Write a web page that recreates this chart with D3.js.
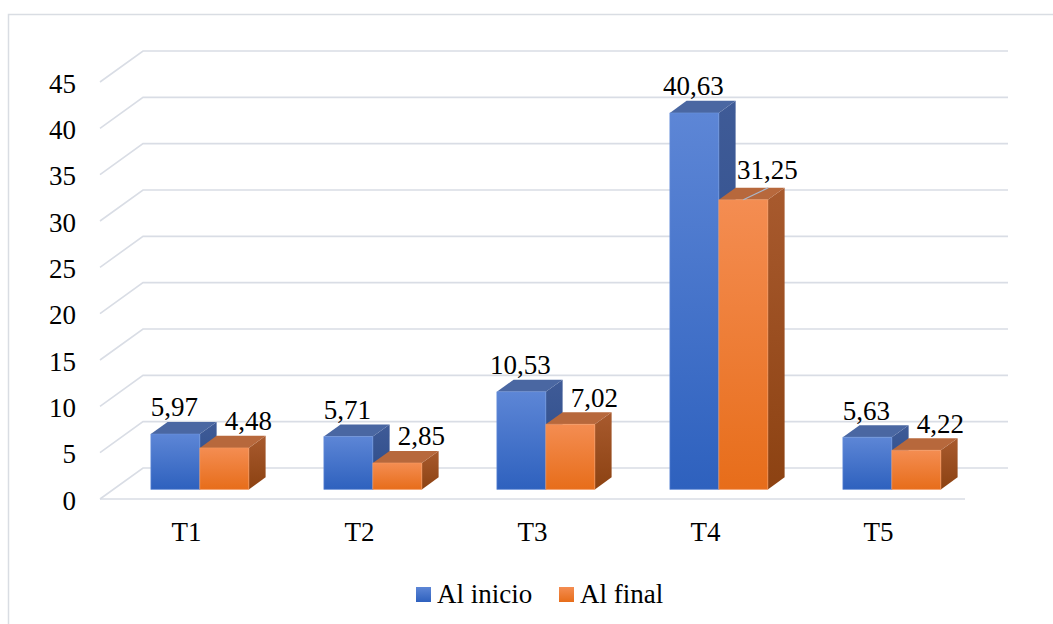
<!DOCTYPE html>
<html>
<head>
<meta charset="utf-8">
<script src="https://cdn.jsdelivr.net/npm/d3@7"></script>
<style>
  html, body { margin: 0; padding: 0; background: #fff; }
  svg { display: block; }
  svg text { font-family: 'Liberation Serif', 'Times New Roman', Tinos, serif; fill: #000; }
</style>
</head>
<body>
<svg id="chart" width="1053" height="624"></svg>
<script>
// Categories, series and values
const categories = ["T1", "T2", "T3", "T4", "T5"];
const seriesNames = ["Al inicio", "Al final"];
const alInicio = [5.97, 5.71, 10.53, 40.63, 5.63];
const alFinal  = [4.48, 2.85, 7.02, 31.25, 4.22];
const yTicks = [0, 5, 10, 15, 20, 25, 30, 35, 40, 45];

const fmt = v => d3.format(".2f")(v).replace(".", ",");

const svg = d3.select("#chart");

// Oblique 3D geometry: floor front edge, wall depth offset
const floorLeft = 100, floorRight = 965, floorFrontY = 499;
const depthDX = 43, depthDY = -31;
const barD0 = 0.31, barD1 = 0.70;   // bar depth span as fraction of floor depth

const x = d3.scaleBand().domain(categories).range([floorLeft, floorRight]).paddingInner(0).paddingOuter(0);
const xs = d3.scaleBand().domain(seriesNames).range([0, x.bandwidth()]).paddingInner(0).paddingOuter(0.765);
const h = d3.scaleLinear().domain([0, 45]).range([0, 417]);

// project (front x, value, depth fraction) -> screen
const P = (fx, v, d) => [fx + d * depthDX, floorFrontY - h(v) + d * depthDY];

// outer frame
svg.append("rect").attr("x", 8.5).attr("y", 14.5).attr("width", 1200).attr("height", 800)
  .attr("fill", "none").attr("stroke", "#d9dde3").attr("stroke-width", 1.5);

// gradients
const defs = svg.append("defs");
function grad(id, c0, c1) {
  const g = defs.append("linearGradient").attr("id", id).attr("x1", 0).attr("y1", 0).attr("x2", 0).attr("y2", 1);
  g.append("stop").attr("offset", "0%").attr("stop-color", c0);
  g.append("stop").attr("offset", "100%").attr("stop-color", c1);
}
grad("blueFront", "#5d86d6", "#2e61be");
grad("blueSide", "#3f5b97", "#2a4a88");
grad("orangeFront", "#f48d52", "#e76d1a");
grad("orangeSide", "#a85a2e", "#8c4212");

const styles = {
  "Al inicio": { front: "url(#blueFront)", side: "url(#blueSide)", top: "#4a67a2", edge: "#6d93db" },
  "Al final":  { front: "url(#orangeFront)", side: "url(#orangeSide)", top: "#b7683c", edge: "#f59a63" }
};

// gridlines: left slanted wall edge + back wall line
const grid = svg.append("g").attr("stroke", "#d9dde5").attr("stroke-width", 1.6).attr("fill", "none");
yTicks.forEach(t => {
  const a = P(floorLeft, t, 0), b = P(floorLeft, t, 1), c = P(floorRight, t, 1);
  grid.append("polyline").attr("points", [a, b, c].map(p => p.join(",")).join(" "));
});
// floor front edge
grid.append("line")
  .attr("x1", floorLeft).attr("y1", floorFrontY).attr("x2", floorRight).attr("y2", floorFrontY);

// y axis labels
svg.append("g").selectAll("text").data(yTicks).join("text")
  .attr("x", 76).attr("y", d => floorFrontY - h(d) + 10.5)
  .attr("text-anchor", "end").attr("font-size", 27)
  .text(d => d);

// category labels
svg.append("g").selectAll("text").data(categories).join("text")
  .attr("x", d => x(d) + x.bandwidth() / 2).attr("y", 541)
  .attr("text-anchor", "middle").attr("font-size", 27)
  .text(d => d);

// bars
const seriesValues = { "Al inicio": alInicio, "Al final": alFinal };
const bars = svg.append("g");
const poly = (pts, fill) => bars.append("polygon").attr("points", pts.map(p => p.join(",")).join(" ")).attr("fill", fill);

categories.forEach((cat, i) => {
  seriesNames.forEach(s => {
    const v = seriesValues[s][i];
    const st = styles[s];
    const x0 = x(cat) + xs(s), x1 = x0 + xs.bandwidth();
    const fbl = P(x0, 0, barD0), fbr = P(x1, 0, barD0), ftl = P(x0, v, barD0), ftr = P(x1, v, barD0);
    const bbr = P(x1, 0, barD1), btl = P(x0, v, barD1), btr = P(x1, v, barD1);
    poly([fbr, bbr, btr, ftr], st.side);
    poly([ftl, ftr, btr, btl], st.top);
    poly([fbl, fbr, ftr, ftl], st.front)
      .attr("stroke", st.edge).attr("stroke-width", 0.6);
  });
});

// data labels
const labels = svg.append("g");
categories.forEach((cat, i) => {
  seriesNames.forEach(s => {
    const v = seriesValues[s][i];
    const x0 = x(cat) + xs(s), x1 = x0 + xs.bandwidth();
    const frontCx = (x0 + x1) / 2 + barD0 * depthDX;
    const backTop = P(x0, v, barD1)[1];
    const frontTop = P(x0, v, barD0)[1];
    let lx, ly;
    if (s === "Al inicio") {
      lx = frontCx - 1; ly = backTop - 5.5;
    } else {
      lx = frontCx + 24; ly = backTop - 5.5;
      // taller neighbour: lift label and add a leader line
      if (alInicio[i] - v > 5) {
        ly -= 3;
        labels.append("line")
          .attr("x1", frontCx).attr("y1", frontTop)
          .attr("x2", frontCx + 25).attr("y2", backTop)
          .attr("stroke", "#a9b8cc").attr("stroke-width", 1.2);
      }
    }
    labels.append("text").attr("x", lx).attr("y", ly)
      .attr("text-anchor", "middle").attr("font-size", 27)
      .text(fmt(v));
  });
});

// legend
const legend = svg.append("g");
const legendItems = [
  { name: "Al inicio", fill: "url(#blueFront)", x: 416 },
  { name: "Al final", fill: "url(#orangeFront)", x: 559 }
];
legendItems.forEach(it => {
  legend.append("rect").attr("x", it.x).attr("y", 587).attr("width", 15).attr("height", 15).attr("fill", it.fill);
  legend.append("text").attr("x", it.x + 21).attr("y", 603).attr("font-size", 27).text(it.name);
});
</script>
</body>
</html>
